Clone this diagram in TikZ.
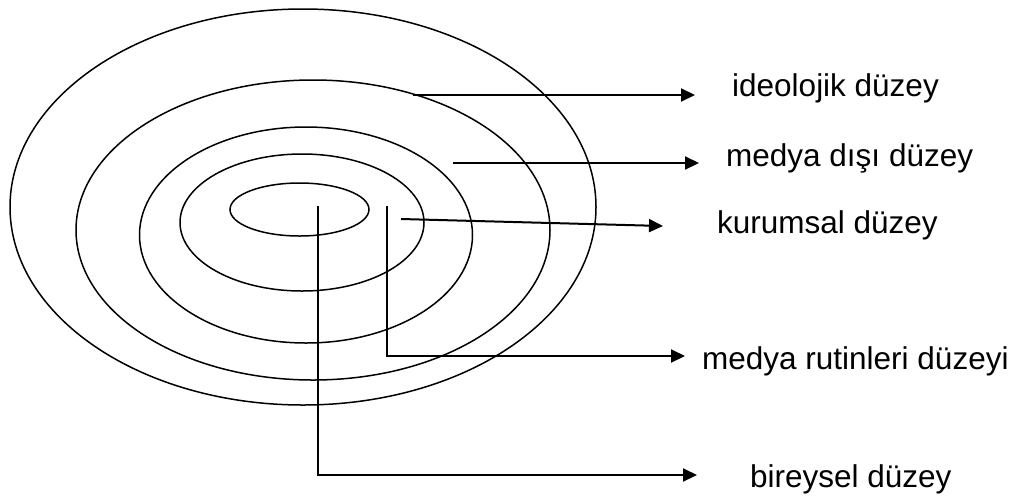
\documentclass[tikz,border=0pt]{standalone}
\usepackage{fontspec}
\setmainfont{Liberation Sans}
\usetikzlibrary{arrows.meta,shapes.geometric}
\begin{document}
\begin{tikzpicture}[x=1pt,y=-1pt,
  ring/.style={draw=black, line width=1.5pt, ellipse, inner sep=0pt, outer sep=0pt},
  conn/.style={draw=black, line width=2pt, -{Triangle[length=14pt,width=13pt]}},
  lbl/.style={inner sep=0pt, anchor=base west, font=\fontsize{31.5}{38}\selectfont}]
\useasboundingbox (0,0) rectangle (1019,499);
% rings
\node[ring, minimum width=586pt, minimum height=396pt] (e1) at (303,207) {};
\node[ring, minimum width=474pt, minimum height=300pt] (e2) at (313,230) {};
\node[ring, minimum width=333pt, minimum height=216pt] (e3) at (306,235) {};
\node[ring, minimum width=244pt, minimum height=137pt] (e4) at (302,222.5) {};
\node[ring, minimum width=139pt, minimum height=53pt] (e5) at (299.5,209.5) {};
% labels
\node[lbl] (t1) at (732,96) {ideolojik düzey};
\node[lbl] (t2) at (726,166) {medya dışı düzey};
\node[lbl] (t3) at (717,233) {kurumsal düzey};
\node[lbl] (t4) at (702,369) {medya rutinleri düzeyi};
\node[lbl] (t5) at (750,487) {bireysel düzey};
% connector points
\coordinate (s1) at (413,95);  \coordinate (p1) at (695,95);
\coordinate (s2) at (453,163); \coordinate (p2) at (699,163);
\coordinate (s3) at (401,219); \coordinate (p3) at (663,226);
\coordinate (s4) at (387,206); \coordinate (k4) at (387,356); \coordinate (p4) at (685,356);
\coordinate (s5) at (318,206); \coordinate (k5) at (318,475); \coordinate (p5) at (697,475);
% connectors
\draw[conn] (s1) -- (p1);
\draw[conn] (s2) -- (p2);
\draw[conn] (s3) -- (p3);
\draw[conn] (s4) -- (k4) -- (p4);
\draw[conn] (s5) -- (k5) -- (p5);
\end{tikzpicture}
\end{document}
